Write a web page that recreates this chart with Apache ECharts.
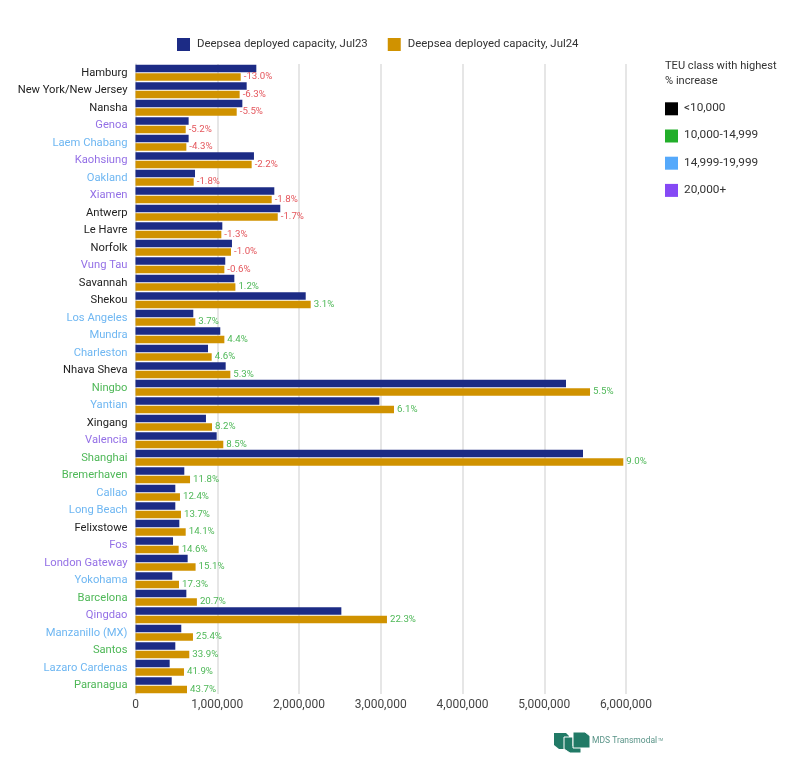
<!DOCTYPE html>
<html>
<head>
    <meta charset="utf-8">
    <title>Deepsea deployed capacity</title>
    <style>
        html, body { margin: 0; padding: 0; background: #fff; }
    </style>
</head>
<body>
<div id="container" style="width: 800px; height: 773px;"></div>
<script src="https://cdn.jsdelivr.net/npm/echarts@6/dist/echarts.min.js" charset="utf-8"></script>
<script>
    var ports = ["Hamburg", "New York/New Jersey", "Nansha", "Genoa", "Laem Chabang", "Kaohsiung", "Oakland", "Xiamen", "Antwerp",
        "Le Havre", "Norfolk", "Vung Tau", "Savannah", "Shekou", "Los Angeles", "Mundra", "Charleston", "Nhava Sheva",
        "Ningbo", "Yantian", "Xingang", "Valencia", "Shanghai", "Bremerhaven", "Callao", "Long Beach", "Felixstowe",
        "Fos", "London Gateway", "Yokohama", "Barcelona", "Qingdao", "Manzanillo (MX)", "Santos", "Lazaro Cardenas", "Paranagua"];

    var jul23 = [1478000, 1360000, 1307000, 650000, 650000, 1449000, 728000, 1698000, 1771000,
        1062000, 1180000, 1098000, 1209000, 2082000, 707000, 1037000, 887000, 1103000,
        5266000, 2983000, 862000, 993000, 5474000, 597000, 487000, 487000, 536000,
        459000, 638000, 450000, 622000, 2518000, 560000, 487000, 418000, 443000];

    var jul24 = [1287000, 1274000, 1238000, 614000, 622000, 1421000, 712000, 1666000, 1740000,
        1050000, 1168000, 1087000, 1222000, 2143000, 732000, 1087000, 932000, 1160000,
        5560000, 3162000, 936000, 1074000, 5967000, 667000, 544000, 556000, 614000,
        528000, 735000, 532000, 751000, 3076000, 703000, 658000, 593000, 630000];

    var change = [-13.0, -6.3, -5.5, -5.2, -4.3, -2.2, -1.8, -1.8, -1.7, -1.3, -1.0, -0.6,
        1.2, 3.1, 3.7, 4.4, 4.6, 5.3, 5.5, 6.1, 8.2, 8.5, 9.0, 11.8, 12.4, 13.7, 14.1, 14.6,
        15.1, 17.3, 20.7, 22.3, 25.4, 33.9, 41.9, 43.7];

    // index into teuClasses for each port
    var portClass = [0, 0, 0, 3, 2, 3, 2, 3, 0, 0, 0, 3, 0, 0, 2, 2, 2, 0,
        1, 2, 0, 3, 1, 1, 2, 2, 0, 3, 3, 2, 1, 3, 2, 1, 2, 1];

    var teuClasses = ["<10,000", "10,000-14,999", "14,999-19,999", "20,000+"];
    var swatchColors = ["#000000", "#22ae2a", "#55a9fb", "#8549f5"];
    var labelColors = ["#222222", "#4fb858", "#6fb7f2", "#9470e6"];

    var fontName = 'Roboto, sans-serif';

    function changeData() {
        var out = [];
        for (var i = 0; i < jul24.length; i++) {
            out.push({
                value: jul24[i],
                label: {color: change[i] < 0 ? "#e4565c" : "#4fb858"}
            });
        }
        return out;
    }

    function teuGraphics() {
        var items = [{
            type: "text",
            left: 665,
            top: 59,
            style: {
                text: "TEU class with highest\n% increase",
                font: "11.1px " + fontName,
                fill: "#333",
                lineHeight: 15
            }
        }];
        for (var i = 0; i < teuClasses.length; i++) {
            var y = 102.3 + i * 27.2;
            items.push({
                type: "rect",
                shape: {x: 665, y: y, width: 13, height: 13},
                style: {fill: swatchColors[i]}
            });
            items.push({
                type: "text",
                left: 684,
                top: y,
                style: {text: teuClasses[i], font: "11.8px " + fontName, fill: "#333"}
            });
        }
        return items;
    }

    function logoGraphics() {
        var green = "#217a66";
        return [{
            type: "polygon",
            shape: {points: [[554, 733], [566, 733], [569, 736], [569, 749], [559, 749], [554, 745]]},
            style: {fill: green}
        }, {
            type: "polygon",
            shape: {points: [[564, 737], [573, 737], [573, 746], [581, 746], [581, 753], [570, 753], [564, 749]]},
            style: {fill: green, stroke: "#fff", lineWidth: 1}
        }, {
            type: "polygon",
            shape: {points: [[573, 732], [585, 732], [590, 736], [590, 748], [573, 748]]},
            style: {fill: green, stroke: "#fff", lineWidth: 1}
        }, {
            type: "text",
            left: 592,
            top: 736.5,
            style: {text: "MDS Transmodal", font: "8.5px " + fontName, fill: "#5a9488"}
        }, {
            type: "text",
            left: 658,
            top: 738,
            style: {text: "TM", font: "3.5px " + fontName, fill: "#5a9488"}
        }];
    }

    var myChart = echarts.init(document.getElementById("container"));

    var option = {
        backgroundColor: "#ffffff",
        animation: false,
        textStyle: {fontFamily: fontName},
        legend: {
            left: 172,
            top: 33,
            icon: "rect",
            itemWidth: 13,
            itemHeight: 13,
            itemGap: 20,
            textStyle: {fontSize: 11.4, color: "#333", fontFamily: fontName, padding: [0, 0, 0, 2]},
            data: ["Deepsea deployed capacity, Jul23", "Deepsea deployed capacity, Jul24"]
        },
        grid: {
            left: 135.5,
            top: 64,
            width: 490.5,
            height: 630
        },
        xAxis: {
            type: "value",
            min: 0,
            max: 6000000,
            interval: 1000000,
            axisLine: {show: false},
            axisTick: {show: false},
            splitLine: {lineStyle: {color: "#dedede", width: 1.5}},
            axisLabel: {
                color: "#444",
                fontSize: 12,
                margin: 5,
                fontFamily: fontName,
                formatter: function (value) {
                    return value.toLocaleString("en-US");
                }
            }
        },
        yAxis: {
            type: "category",
            data: ports,
            inverse: true,
            axisLine: {lineStyle: {color: "#dedede", width: 1.5}},
            axisTick: {show: false},
            axisLabel: {
                fontSize: 11.2,
                margin: 8,
                interval: 0,
                fontFamily: fontName,
                color: function (value, index) {
                    return labelColors[portClass[index]];
                }
            }
        },
        series: [{
            name: "Deepsea deployed capacity, Jul23",
            type: "bar",
            data: jul23,
            barWidth: 7.5,
            barGap: "13%",
            itemStyle: {color: "#1c2b85"}
        }, {
            name: "Deepsea deployed capacity, Jul24",
            type: "bar",
            data: changeData(),
            barWidth: 7.5,
            itemStyle: {color: "#d09200"},
            label: {
                show: true,
                position: "right",
                distance: 3,
                fontSize: 9.7,
                fontFamily: fontName,
                formatter: function (params) {
                    return change[params.dataIndex].toFixed(1) + "%";
                }
            }
        }],
        graphic: teuGraphics().concat(logoGraphics())
    };

    myChart.setOption(option);
</script>
</body>
</html>
